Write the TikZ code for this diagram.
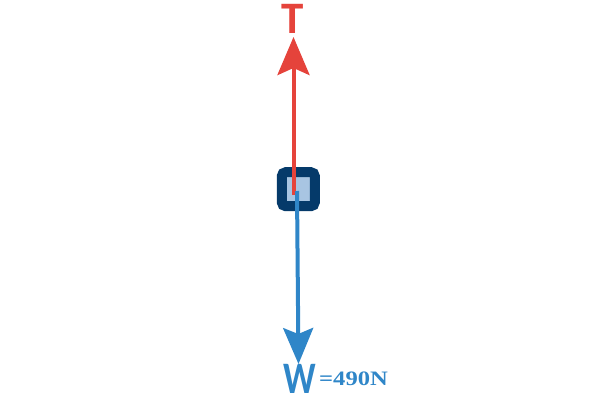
\documentclass[tikz,border=0pt]{standalone}
\usepackage{fontspec}
\setmainfont{Carlito}
\newfontfamily\valfont[FakeStretch=1.2]{Liberation Serif}
\newfontfamily\wfont[FakeStretch=0.8]{Carlito}
\usetikzlibrary{arrows.meta}
\definecolor{tred}{HTML}{E5433B}
\definecolor{wblue}{HTML}{2F86C8}
\definecolor{navy}{HTML}{053A6A}
\definecolor{lightbox}{HTML}{A8C5E2}
\tikzset{
  force/.style={line width=4pt},
  lbl/.style={inner sep=1pt, font=\bfseries\fontsize{45}{45}\selectfont},
}
\begin{document}
\begin{tikzpicture}[x=1pt,y=-1pt]
\useasboundingbox (0,0) rectangle (600,400);
\node[draw=navy, fill=lightbox, line width=10pt, rounded corners=4pt,
      minimum width=33pt, minimum height=34pt, inner sep=0pt] (box) at (298.3,189.2) {};
\coordinate (redstart) at (293.5,195);
\coordinate (redtip) at (293.5,37);
\coordinate (bluestart) at (297,191);
\coordinate (bluetip) at (298.5,364);
\draw[force, tred, -{Stealth[length=38pt, width=32pt, inset=7pt]}] (redstart) -- (redtip);
\draw[force, wblue, -{Stealth[length=36pt, width=30pt, inset=6pt]}] (bluestart) -- (bluetip);
\node[lbl, text=tred, anchor=base] (T) at (293,33) {T};
\node[lbl, text=wblue, anchor=base, font=\wfont\bfseries\fontsize{45}{45}\selectfont] (W) at (300,393) {W};
\node[inner sep=0pt, anchor=base west, text=wblue, font=\valfont\bfseries\fontsize{20.5}{20.5}\selectfont] (val) at (319,385.5) {=490N};
\end{tikzpicture}
\end{document}
